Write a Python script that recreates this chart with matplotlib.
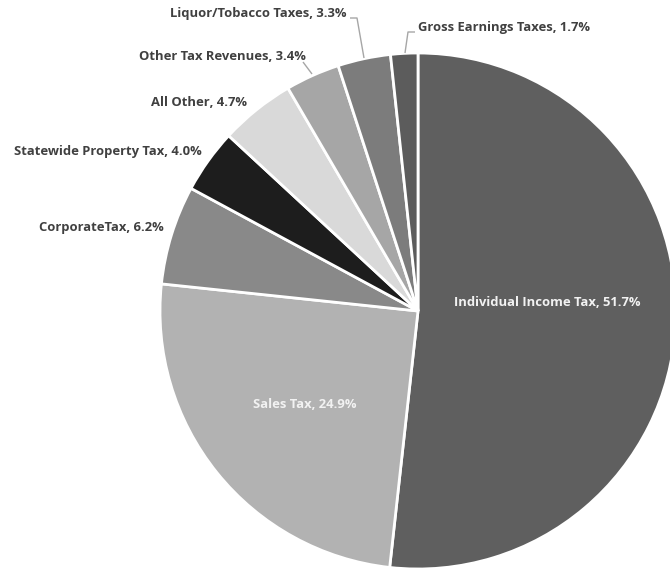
import matplotlib
matplotlib.use("Agg")
import matplotlib.pyplot as plt

# revenue shares, percent, clockwise from 12 o'clock
categories = ["Individual Income Tax", "Sales Tax", "CorporateTax",
              "Statewide Property Tax", "All Other", "Other Tax Revenues",
              "Liquor/Tobacco Taxes", "Gross Earnings Taxes"]
shares = [51.7, 24.9, 6.2, 4.0, 4.7, 3.4, 3.3, 1.7]
colors = ["#5f5f5f", "#b2b2b2", "#898989", "#1d1d1d",
          "#d9d9d9", "#a6a6a6", "#7c7c7c", "#5c5c5c"]

W, H = 670, 570
fig = plt.figure(figsize=(W / 100, H / 100), dpi=100)
ax = fig.add_axes([0, 0, 1, 1])

ax.pie(shares, colors=colors, startangle=90, counterclock=False,
       center=(418, H - 311), radius=258,
       wedgeprops=dict(edgecolor="white", linewidth=2))
ax.set_xlim(0, W)
ax.set_ylim(0, H)
ax.set_aspect("equal")
ax.axis("off")

font = dict(family=["Open Sans", "DejaVu Sans"], fontweight="bold", fontsize=9.4)


def label(i, x, y, ha, color="#404040"):
    ax.text(x, H - y, f"{categories[i]}, {shares[i]:.1f}%", ha=ha, va="center",
            color=color, **font)


def leader(xs, ys):
    ax.plot(xs, [H - v for v in ys], color="#a6a6a6", lw=1, solid_capstyle="butt")


label(0, 547, 303, "center", "#f2f2f2")
label(1, 305, 404, "center", "#f2f2f2")
label(2, 164, 228, "right")
label(3, 202, 152, "right")
label(4, 247, 102, "right")
label(5, 306, 57, "right")
label(6, 347, 13, "right")
label(7, 418, 27, "left")

leader([303, 312], [62, 74])
leader([350, 357, 364], [18, 18, 58])
leader([415, 408, 405], [32, 32, 53])

fig.savefig("out.png", dpi=100)
